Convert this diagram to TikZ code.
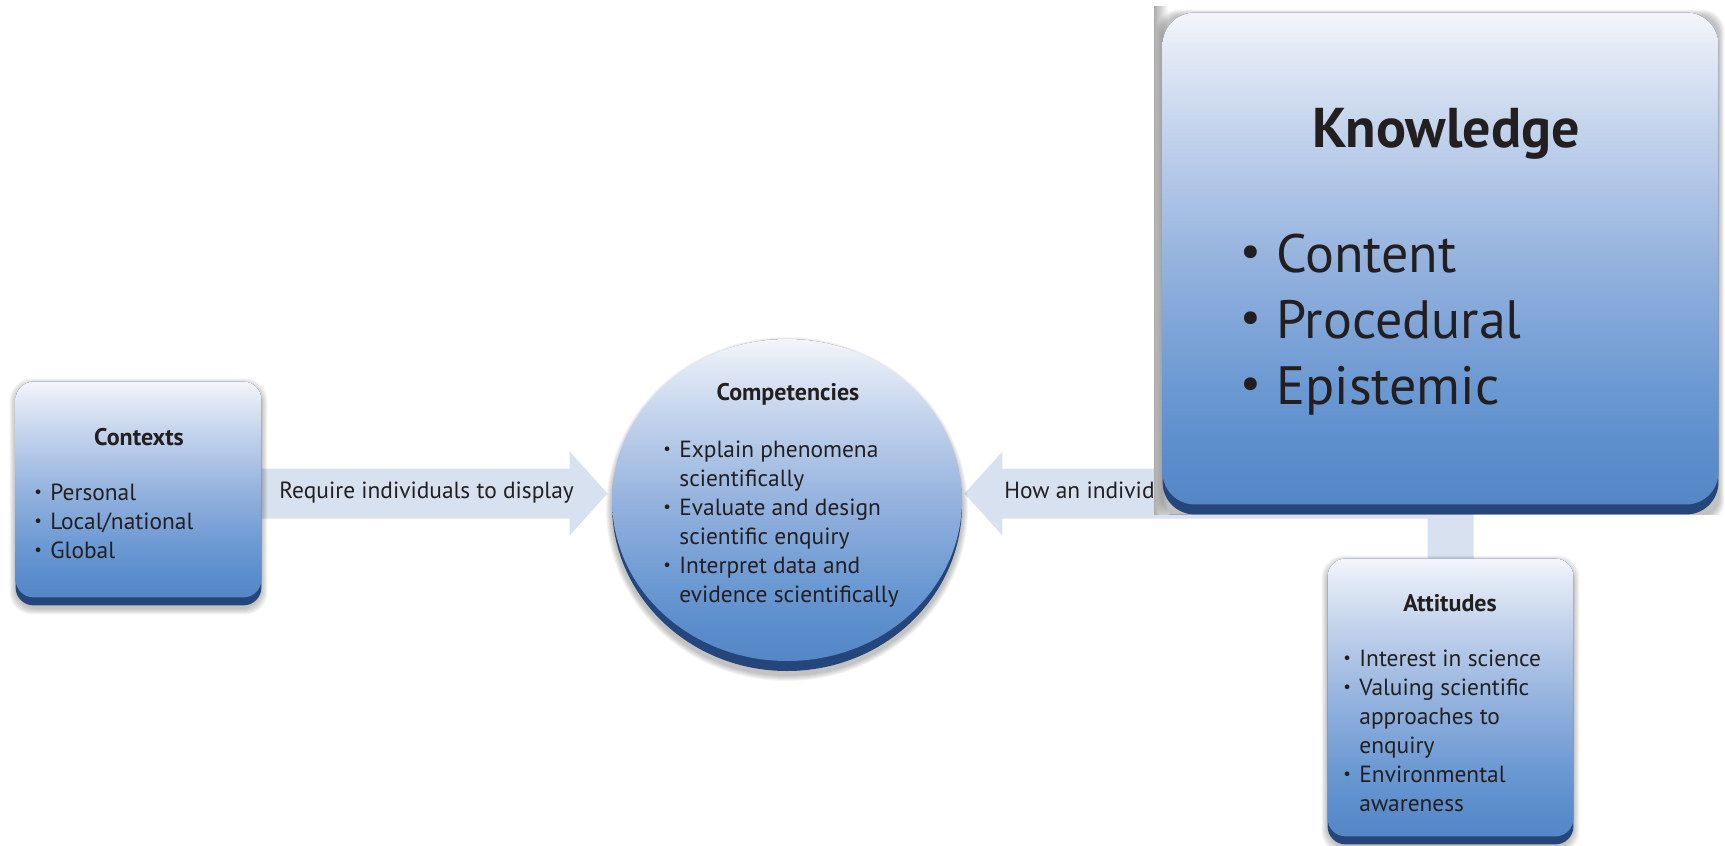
\documentclass[tikz,border=0pt]{standalone}
\usepackage{graphicx}
\usepackage{fontspec}
\setmainfont{PT Sans}
\usetikzlibrary{calc,shapes.geometric}

\definecolor{ink}{HTML}{231F20}
\definecolor{flowblue}{HTML}{D8E1F0}
\definecolor{bevelblue}{HTML}{25467A}
\definecolor{faceA}{HTML}{5586C6}
\definecolor{faceB}{HTML}{5B8DCC}
\definecolor{faceC}{HTML}{6A98D2}
\definecolor{faceD}{HTML}{94B2DE}
\definecolor{faceE}{HTML}{C3D3EC}
\definecolor{faceF}{HTML}{E2E9F5}
\definecolor{faceG}{HTML}{F3F5FA}

% light at the top, mid blue at the bottom (the path spans 25bp..75bp)
\pgfdeclareverticalshading{facegrad}{100bp}{color(0bp)=(faceA); color(25bp)=(faceA); color(30bp)=(faceB); color(36.5bp)=(faceC); color(49.5bp)=(faceD); color(63bp)=(faceE); color(71bp)=(faceF); color(75bp)=(faceG); color(100bp)=(faceG)}

% bullet of a given box width and scale
\newcommand{\bul}[2][0.72]{\makebox[#2][l]{\raisebox{0.1em}{\scalebox{#1}{\textbullet}}}}

% soft drop shadow behind a rounded box given by its node name
\newcommand{\boxshadow}[1]{%
  \foreach \g in {1,...,6}{%
    \fill[black, opacity=0.045, rounded corners=11pt]
      ($(#1.north west)+(-\g,-\g+3)$) rectangle ($(#1.south east)+(\g,\g+3)$);}}

\tikzset{
  boxslot/.style={draw=none, fill=none, inner sep=0pt},
  boxface/.style={shading=facegrad},
  headtext/.style={font=\bfseries\fontsize{12}{14}\selectfont, text=ink, inner sep=0pt},
  bodytext/.style={font=\fontsize{11.7}{14}\selectfont, text=ink, inner sep=0pt, anchor=mid west},
  bigtext/.style={font=\fontsize{27}{30}\selectfont, text=ink, inner sep=0pt, anchor=mid west},
  flowarrow/.style={fill=flowblue, draw=none},
}

\begin{document}
\begin{tikzpicture}[x=0.5pt,y=-0.5pt]
\useasboundingbox (0,0) rectangle (1725,846);

% ---- frames of the four boxes ----
\node[boxslot, rectangle, minimum width=122.5pt, minimum height=111.5pt] (ctx) at (138.5,493.5) {};
\node[boxslot, ellipse, minimum width=175pt, minimum height=166pt] (comp) at (787,505) {};
\node[boxslot, rectangle, minimum width=122.5pt, minimum height=142.5pt] (att) at (1450.5,701.5) {};
\node[boxslot, rectangle, minimum width=277.5pt, minimum height=250.5pt] (know) at (1440.5,263.5) {};

% ---- block arrows ----
\coordinate (tip1) at ($(comp.west |- ctx.east)+(-4,0)$);
\fill[flowarrow] ($(ctx.east)+(0,-25)$) -- ($(tip1)+(-38,-25)$) -- ($(tip1)+(-38,-42)$)
  -- (tip1) -- ($(tip1)+(-38,42)$) -- ($(tip1)+(-38,25)$) -- ($(ctx.east)+(0,25)$) -- cycle;
\coordinate (tip2) at ($(comp.east |- ctx.east)+(2,0)$);
\fill[flowarrow] (tip2) -- ($(tip2)+(38,-42)$) -- ($(tip2)+(38,-25)$)
  -- ($(att.north |- tip2)+(23,-25)$) -- ($(att.north)+(23,0)$) -- ($(att.north)+(-23,0)$)
  -- ($(att.north |- tip2)+(-23,25)$) -- ($(tip2)+(38,25)$) -- ($(tip2)+(38,42)$) -- cycle;
\node[bodytext] (lab1) at (279,493) {Require individuals to display};
\node[bodytext] (lab2) at (1004,493) {How an individ};

% ---- Contexts ----
\boxshadow{ctx}
\fill[bevelblue, rounded corners=9pt] (ctx.north west) rectangle (ctx.south east);
\shade[boxface, rounded corners=9pt] (ctx.north west) rectangle ($(ctx.south east)+(0,-8)$);
\node[headtext] (ctx-t) at (139,437) {Contexts};
\node[bodytext] (ctx-1) at (34,495) {\bul{8pt}Personal};
\node[bodytext] (ctx-2) at (34,524) {\bul{8pt}Local/national};
\node[bodytext] (ctx-3) at (34,553) {\bul{8pt}Global};

% ---- Competencies ----
\foreach \g in {1,...,6}{%
  \pgfmathsetmacro\rx{87.5+0.5*\g}\pgfmathsetmacro\ry{83+0.5*\g}
  \fill[black, opacity=0.045] ($(comp.center)+(0,4)$) ellipse [x radius=\rx pt, y radius=\ry pt];}
\fill[bevelblue] (comp.center) ellipse [x radius=87.5pt, y radius=83pt];
\shade[boxface] ($(comp.center)+(0,-5)$) ellipse [x radius=87.5pt, y radius=80.5pt];
\node[headtext] (comp-t) at (788,394) {Competencies};
\node[bodytext] (comp-1) at (663,452) {\bul{8pt}Explain phenomena};
\node[bodytext] (comp-2) at (679,481) {scientifically};
\node[bodytext] (comp-3) at (663,510) {\bul{8pt}Evaluate and design};
\node[bodytext] (comp-4) at (679,539) {scientific enquiry};
\node[bodytext] (comp-5) at (663,568) {\bul{8pt}Interpret data and};
\node[bodytext] (comp-6) at (679,597) {evidence scientifically};

% ---- Attitudes ----
\boxshadow{att}
\fill[bevelblue, rounded corners=9pt] (att.north west) rectangle (att.south east);
\shade[boxface, rounded corners=9pt] (att.north west) rectangle ($(att.south east)+(0,-8)$);
\node[headtext] (att-t) at (1450,603) {Attitudes};
\node[bodytext] (att-1) at (1343,661) {\bul{8pt}Interest in science};
\node[bodytext] (att-2) at (1343,690) {\bul{8pt}Valuing scientific};
\node[bodytext] (att-3) at (1359,719) {approaches to};
\node[bodytext] (att-4) at (1359,748) {enquiry};
\node[bodytext] (att-5) at (1343,777) {\bul{8pt}Environmental};
\node[bodytext] (att-6) at (1359,806) {awareness};

% ---- Knowledge, set on its own backing panel ----
\coordinate (kb-nw) at (1154,6);
\coordinate (kb-se) at (1725,514);
\fill[white] (kb-nw) rectangle (kb-se);
\shade[left color=gray!65, right color=white] (kb-nw) rectangle (1168,514);
\begin{scope}
  \clip (kb-nw) rectangle (kb-se);
  \boxshadow{know}
\end{scope}
\fill[bevelblue, rounded corners=16pt] (know.north west) rectangle (know.south east);
\shade[boxface, rounded corners=16pt] (know.north west) rectangle ($(know.south east)+(0,-10)$);
\node[headtext, font=\bfseries\fontsize{28}{32}\selectfont] (know-t) at (1446,134) {Knowledge};
\node[bigtext] (know-1) at (1240,267) {\bul[0.85]{18pt}Content};
\node[bigtext] (know-2) at (1240,333) {\bul[0.85]{18pt}Procedural};
\node[bigtext] (know-3) at (1240,399) {\bul[0.85]{18pt}Epistemic};
\end{tikzpicture}
\end{document}
